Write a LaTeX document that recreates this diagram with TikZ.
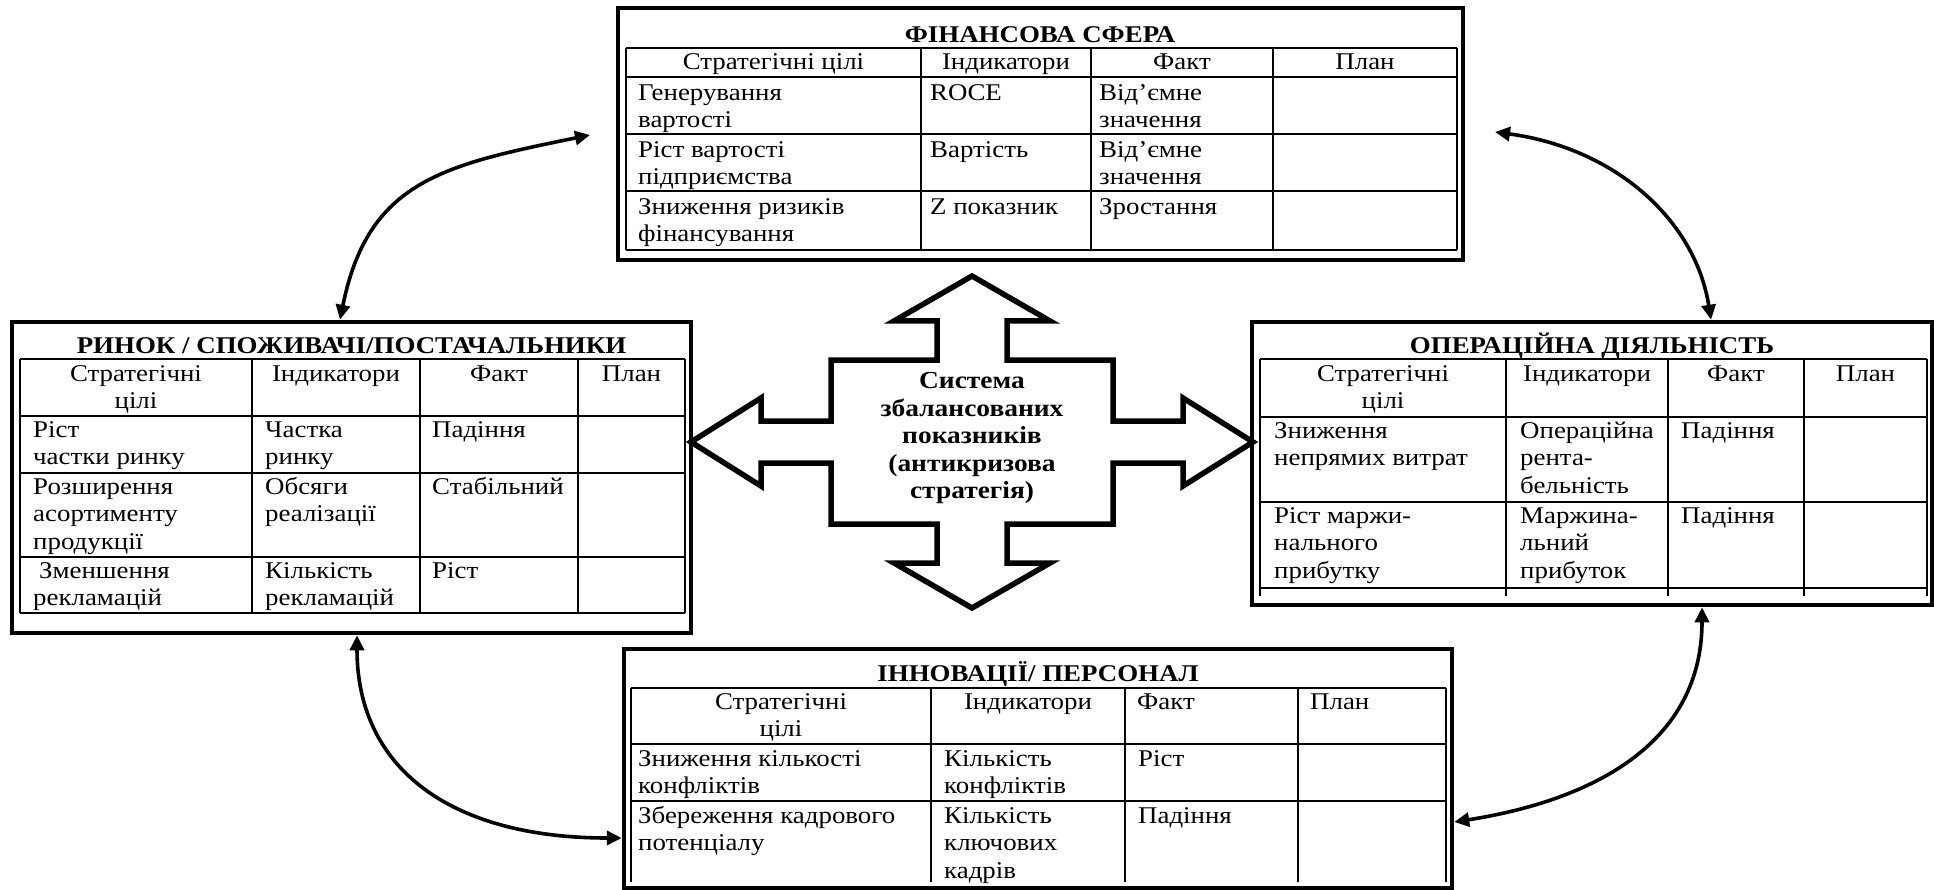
\documentclass[tikz,border=0pt]{standalone}
\usepackage{fontspec}
\setmainfont{Liberation Serif}[FakeStretch=1.12]
\usetikzlibrary{arrows.meta}
\tikzset{
  box/.style={draw, line width=4.5pt, rectangle, inner sep=0pt},
  grid/.style={line width=1.8pt},
  cell/.style={anchor=north west, inner sep=0pt, align=left, font=\fontsize{24}{27.5}\selectfont},
  hcell/.style={anchor=north, inner sep=0pt, align=center, font=\fontsize{24}{27.5}\selectfont},
  ttl/.style={anchor=base, inner sep=0pt, font=\bfseries\fontsize{24}{27.5}\selectfont},
  core/.style={inner sep=0pt, align=center, font=\bfseries\fontsize{24.5}{27.5}\selectfont},
  crossline/.style={line width=5.5pt, line join=miter, fill=white},
  link/.style={line width=3.6pt, {Triangle[length=15pt,width=14pt]}-{Triangle[length=15pt,width=14pt]}}
}
\begin{document}
\begin{tikzpicture}[x=1pt,y=-1pt]
\useasboundingbox (0,0) rectangle (1934,890);
\fill[white] (0,0) rectangle (1934,890);

% ---------------- outer boxes
\node[box, minimum width=845pt, minimum height=252pt] (fin) at (1040.5,134) {};
\node[box, minimum width=679pt, minimum height=311pt] (mkt) at (351.5,477.5) {};
\node[box, minimum width=680pt, minimum height=283pt] (ops) at (1592,463.5) {};
\node[box, minimum width=828pt, minimum height=239pt] (inn) at (1038,768.5) {};

% ---------------- FINANCE table
\foreach \x in {626,921,1091,1273,1457} \draw[grid] (\x,48) -- (\x,250);
\foreach \y in {48,77,134,191,250} \draw[grid] (626,\y) -- (1457,\y);
\node[ttl] (fint) at (1040,42.5) {ФІНАНСОВА СФЕРА};
\node[hcell] (fh1) at (773.5,50) {\strut Стратегічні цілі};
\node[hcell] (fh2) at (1006,50) {\strut Індикатори};
\node[hcell] (fh3) at (1182,50) {\strut Факт};
\node[hcell] (fh4) at (1365,50) {\strut План};
\node[cell] (f11) at (638,81) {\strut Генерування\\вартості};
\node[cell] (f12) at (930,81) {\strut ROCE};
\node[cell] (f13) at (1099,81) {\strut Від’ємне\\значення};
\node[cell] (f21) at (638,138) {\strut Ріст вартості\\підприємства};
\node[cell] (f22) at (930,138) {\strut Вартість};
\node[cell] (f23) at (1099,138) {\strut Від’ємне\\значення};
\node[cell] (f31) at (638,195) {\strut Зниження ризиків\\фінансування};
\node[cell] (f32) at (930,195) {\strut Z показник};
\node[cell] (f33) at (1099,195) {\strut Зростання};

% ---------------- MARKET table
\foreach \x in {20,252,420,578,685} \draw[grid] (\x,359) -- (\x,613);
\foreach \y in {359,416,473,557,613} \draw[grid] (20,\y) -- (685,\y);
\node[ttl] (mktt) at (351.5,353) {РИНОК / СПОЖИВАЧІ/ПОСТАЧАЛЬНИКИ};
\node[hcell] (mh1) at (136,362) {\strut Стратегічні\\цілі};
\node[hcell] (mh2) at (336,362) {\strut Індикатори};
\node[hcell] (mh3) at (499,362) {\strut Факт};
\node[hcell] (mh4) at (631.5,362) {\strut План};
\node[cell] (m11) at (33,418) {\strut Ріст\\частки ринку};
\node[cell] (m12) at (265,418) {\strut Частка\\ринку};
\node[cell] (m13) at (432,418) {\strut Падіння};
\node[cell] (m21) at (33,475) {\strut Розширення\\асортименту\\продукції};
\node[cell] (m22) at (265,475) {\strut Обсяги\\реалізації};
\node[cell] (m23) at (432,475) {\strut Стабільний};
\node[cell] (m31) at (33,559) {\strut \hspace{6pt}Зменшення\\рекламацій};
\node[cell] (m32) at (265,559) {\strut Кількість\\рекламацій};
\node[cell] (m33) at (432,559) {\strut Ріст};

% ---------------- OPERATIONS table
\foreach \x in {1260,1506,1668,1804,1927} \draw[grid] (\x,359) -- (\x,596);
\foreach \y in {359,417,502,588} \draw[grid] (1260,\y) -- (1927,\y);
\node[ttl] (opst) at (1592,353) {ОПЕРАЦІЙНА ДІЯЛЬНІСТЬ};
\node[hcell] (oh1) at (1383,362) {\strut Стратегічні\\цілі};
\node[hcell] (oh2) at (1587,362) {\strut Індикатори};
\node[hcell] (oh3) at (1736,362) {\strut Факт};
\node[hcell] (oh4) at (1865.5,362) {\strut План};
\node[cell] (o11) at (1274,419) {\strut Зниження\\непрямих витрат};
\node[cell] (o12) at (1520,419) {\strut Операційна\\рента-\\бельність};
\node[cell] (o13) at (1681,419) {\strut Падіння};
\node[cell] (o21) at (1274,504) {\strut Ріст маржи-\\нального\\прибутку};
\node[cell] (o22) at (1520,504) {\strut Маржина-\\льний\\прибуток};
\node[cell] (o23) at (1681,504) {\strut Падіння};

% ---------------- INNOVATION table
\foreach \x in {631,931,1125,1298,1446} \draw[grid] (\x,688) -- (\x,882);
\foreach \y in {688,744,801} \draw[grid] (631,\y) -- (1446,\y);
\node[ttl] (innt) at (1038,681) {ІННОВАЦІЇ/ ПЕРСОНАЛ};
\node[hcell] (ih1) at (781,690) {\strut Стратегічні\\цілі};
\node[hcell] (ih2) at (1028,690) {\strut Індикатори};
\node[cell] (ih3) at (1137,690) {\strut Факт};
\node[cell] (ih4) at (1310,690) {\strut План};
\node[cell] (i11) at (638,747) {\strut Зниження кількості\\конфліктів};
\node[cell] (i12) at (944,747) {\strut Кількість\\конфліктів};
\node[cell] (i13) at (1138,747) {\strut Ріст};
\node[cell] (i21) at (638,804) {\strut Збереження кадрового\\потенціалу};
\node[cell] (i22) at (944,804) {\strut Кількість\\ключових\\кадрів};
\node[cell] (i23) at (1138,804) {\strut Падіння};

% ---------------- central cross arrow
\begin{scope}[shift={(972,442)}]
\draw[crossline] (0,-166) -- (78,-121) -- (35,-121) -- (35,-82) -- (141,-82) -- (141,-21)
  -- (211,-21) -- (211,-44) -- (281,0) -- (211,44) -- (211,21) -- (141,21) -- (141,82)
  -- (35,82) -- (35,121) -- (78,121) -- (0,166) -- (-78,121) -- (-35,121) -- (-35,82)
  -- (-141,82) -- (-141,21) -- (-211,21) -- (-211,44) -- (-281,0) -- (-211,-44)
  -- (-211,-21) -- (-141,-21) -- (-141,-82) -- (-35,-82) -- (-35,-121) -- (-78,-121) -- cycle;
\end{scope}
\node[core] (bsc) at (972,438) {Система\\збалансованих\\показників\\(антикризова\\стратегія)};

% ---------------- curved double arrows
\coordinate (finL) at (590,135);
\coordinate (finR) at (1495,132);
\draw[link] ([xshift=-11.5pt]mkt.north) .. controls (368,181) and (443,165) .. (finL);
\draw[link] (finR) .. controls (1614,148) and (1695,219) .. ([xshift=119pt]ops.north);
\draw[link] ([xshift=5.5pt]mkt.south) .. controls (357,768) and (450,838) .. ([yshift=-69.5pt]inn.west);
\draw[link] ([xshift=110pt]ops.south) .. controls (1702,743) and (1594,800) .. ([yshift=-53.5pt]inn.east);
\end{tikzpicture}
\end{document}
